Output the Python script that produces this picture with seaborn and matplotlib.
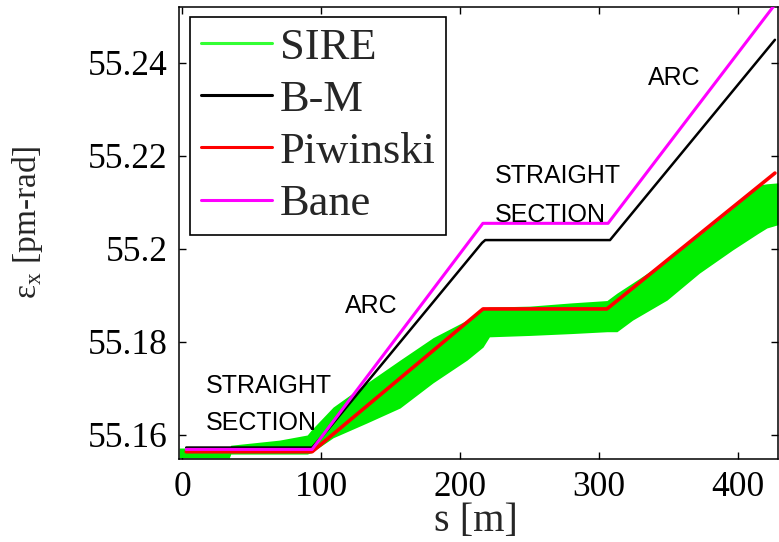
import numpy as np
import pandas as pd
import matplotlib
matplotlib.use("Agg")
import matplotlib.pyplot as plt
from matplotlib.lines import Line2D
import seaborn as sns

# ---------------- data ----------------
# SIRE band (envelope of the green region)
sire_s = [-2, 34, 35, 70, 90, 93, 108.6, 133, 156.7, 180.4, 204.9, 216.4, 221,
          250, 280, 305.5, 312.7, 324, 348.7, 372, 396, 414, 420.5, 428.5]
sire_hi = [55.1572, 55.1572, 55.1578, 55.1589, 55.1600, 55.1611, 55.1660, 55.1712,
           55.1761, 55.1809, 55.1847, 55.1873, 55.1875, 55.1877, 55.1884, 55.1889,
           55.1905, 55.1927, 55.1976, 55.2030, 55.2088, 55.2137, 55.2140, 55.2142]
sire_lo = [55.1551, 55.1551, 55.1559, 55.1559, 55.1559, 55.1562, 55.1594, 55.1626,
           55.1658, 55.1712, 55.1761, 55.1789, 55.1811, 55.1814, 55.1818, 55.1822,
           55.1822, 55.1847, 55.1890, 55.1948, 55.1998, 55.2033, 55.2045, 55.2052]

bm_s = [3, 93.5, 105, 215.7, 218, 307.7, 426.3]
bm_y = [55.1573, 55.1573, 55.1612, 55.2013, 55.2019, 55.2019, 55.24495]

pw_s = [3, 93.5, 216.4, 305.5, 426.3]
pw_y = [55.1564, 55.1564, 55.1871, 55.1871, 55.2163]

bane_s = [3, 93.5, 216.3, 306.3, 428.5]
bane_y = [55.1569, 55.1569, 55.2055, 55.2055, 55.2534]

series_names = ["SIRE", "B-M", "Piwinski", "Bane"]

x_ticks = [0, 100, 200, 300, 400]
y_ticks = [55.16, 55.18, 55.20, 55.22, 55.24]
y_tick_labels = ["55.16", "55.18", "55.2", "55.22", "55.24"]

# annotations: (text, s, y)
annot_text = ["STRAIGHT", "SECTION", "ARC", "STRAIGHT", "SECTION", "ARC"]
annot_s = [17.3, 17.3, 117.2, 225.0, 225.0, 335.0]
annot_y = [55.16893, 55.16108, 55.18624, 55.21419, 55.20581, 55.23527]

# ---------------- styling ----------------
sns.set_style("ticks")
plt.rcParams["font.family"] = ["Liberation Serif", "DejaVu Serif"]
plt.rcParams["mathtext.fontset"] = "custom"
plt.rcParams["mathtext.rm"] = "Liberation Serif"

c_sire = "#00ee00"
c_bm = "#000000"
c_pw = "#ff0000"
c_bane = "#ff00ff"

fig = plt.figure(figsize=(7.79, 5.42), dpi=100)
fig.patch.set_facecolor("white")
ax = fig.add_axes([179 / 779, 1 - 459 / 542, (778 - 179) / 779, (459 - 7) / 542])
ax.set_facecolor("white")

band = pd.DataFrame({"s": sire_s, "lo": sire_lo, "hi": sire_hi})
ax.fill_between(band["s"], band["lo"], band["hi"], color=c_sire, lw=0, zorder=1)

df_bm = pd.DataFrame({"s": bm_s, "eps": bm_y})
df_pw = pd.DataFrame({"s": pw_s, "eps": pw_y})
df_bane = pd.DataFrame({"s": bane_s, "eps": bane_y})

sns.lineplot(data=df_bm, x="s", y="eps", color=c_bm, lw=1.8, ax=ax,
             estimator=None, sort=False, legend=False, zorder=3)
sns.lineplot(data=df_pw, x="s", y="eps", color=c_pw, lw=2.6, ax=ax,
             estimator=None, sort=False, legend=False, zorder=4)
sns.lineplot(data=df_bane, x="s", y="eps", color=c_bane, lw=2.2, ax=ax,
             estimator=None, sort=False, legend=False, zorder=5)

ax.set_xlim(-2.2, 428.5)
ax.set_ylim(55.15484, 55.2520)
ax.set_xticks(x_ticks)
ax.set_xticklabels([str(v) for v in x_ticks])
ax.set_yticks(y_ticks)
ax.set_yticklabels(y_tick_labels)

for sp in ax.spines.values():
    sp.set_visible(True)
    sp.set_color("black")
    sp.set_linewidth(1.1)

ax.tick_params(axis="both", direction="in", length=5, width=1, top=True, right=True,
               colors="black", labelsize=25.5)
ax.tick_params(axis="x", pad=9)
ax.tick_params(axis="y", pad=8)

ax.set_xlabel("s [m]", fontsize=29)
ax.xaxis.set_label_coords(0.495, -0.097)
ax.xaxis.label.set_va("top")
ax.set_ylabel("ε$_\\mathregular{x}$ [pm-rad]", fontsize=24)
ax.yaxis.set_label_coords(-0.224, 0.524)

for t, xs, ys in zip(annot_text, annot_s, annot_y):
    ax.text(xs, ys, t, fontsize=18, family=["Liberation Sans", "DejaVu Sans"],
            ha="left", va="baseline", color="black", zorder=6)

handles = [Line2D([], [], color=c, lw=2.2) for c in ["#33ff33", c_bm, c_pw, c_bane]]
leg = ax.legend(handles, series_names, loc="upper left",
                bbox_to_anchor=(190 / 779, 1 - 17 / 542), bbox_transform=fig.transFigure,
                borderaxespad=0, fontsize=32, frameon=True, fancybox=False,
                handlelength=1.6, handletextpad=0.18, labelspacing=0.27,
                borderpad=0.24)
leg.get_frame().set_edgecolor("black")
leg.get_frame().set_linewidth(1.2)
leg.get_frame().set_alpha(1)

fig.savefig("out.png", dpi=100)
